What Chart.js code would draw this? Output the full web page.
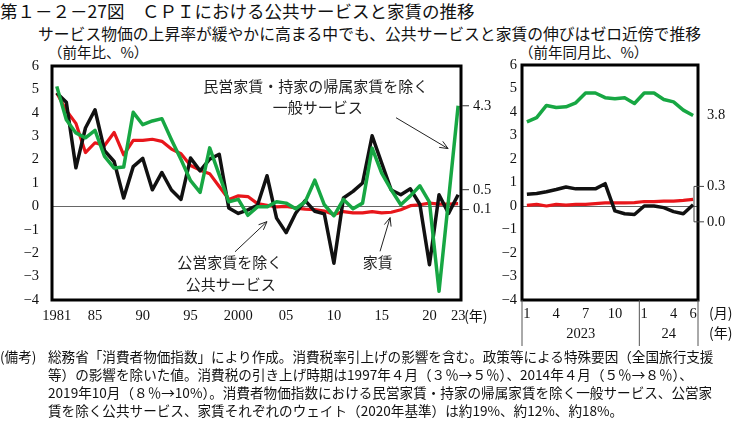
<!DOCTYPE html>
<html lang="ja">
<head>
<meta charset="utf-8">
<script src="https://cdn.jsdelivr.net/npm/chart.js@4.4.1/dist/chart.umd.min.js"></script>
<style>
  body { margin: 0; background: #fff; }
  #page { position: relative; width: 740px; height: 423px; overflow: hidden;
          font-family: "Noto Sans CJK JP", sans-serif; color: #111; }
  .txt { position: absolute; white-space: nowrap; }
  #title { left: 0; top: 0; font-size: 17.5px; line-height: 22px; }
  #subtitle { left: 38px; top: 23px; font-size: 15.8px; line-height: 22px; }
  .unit { top: 43px; font-size: 14.5px; line-height: 18px; }
  canvas { position: absolute; }
  #notes { position: absolute; left: 0; top: 347px; width: 740px; font-size: 13.6px; line-height: 18px; }
  #notes .head { position: absolute; left: 0; top: 0; }
  #notes .body { margin-left: 48px; }
  #notes .body div { white-space: nowrap; }
</style>
</head>
<body>
<div id="page">
  <div id="title" class="txt">第１－２－27図　ＣＰＩにおける公共サービスと家賃の推移</div>
  <div id="subtitle" class="txt">サービス物価の上昇率が緩やかに高まる中でも、公共サービスと家賃の伸びはゼロ近傍で推移</div>
  <div class="txt unit" style="left:48px">（前年比、%）</div>
  <div class="txt unit" style="left:519px">（前年同月比、%）</div>

  <canvas id="annualChart" width="500" height="300" style="left:0;top:40px"></canvas>
  <canvas id="monthlyChart" width="245" height="310" style="left:495px;top:40px"></canvas>

  <div id="notes">
    <div class="head">(備考)</div>
    <div class="body">
      <div>総務省「消費者物価指数」により作成。消費税率引上げの影響を含む。政策等による特殊要因（全国旅行支援</div>
      <div>等）の影響を除いた値。消費税の引き上げ時期は1997年４月（３％→５％）、2014年４月（５％→８％）、</div>
      <div>2019年10月（８％→10%）。消費者物価指数における民営家賃・持家の帰属家賃を除く一般サービス、公営家</div>
      <div>賃を除く公共サービス、家賃それぞれのウェイト（2020年基準）は約19%、約12%、約18%。</div>
    </div>
  </div>
</div>

<script>
// annual data, 1981-2023 (前年比, %)
var years = [1981, 1982, 1983, 1984, 1985, 1986, 1987, 1988, 1989, 1990,
  1991, 1992, 1993, 1994, 1995, 1996, 1997, 1998, 1999, 2000,
  2001, 2002, 2003, 2004, 2005, 2006, 2007, 2008, 2009, 2010,
  2011, 2012, 2013, 2014, 2015, 2016, 2017, 2018, 2019, 2020,
  2021, 2022, 2023];
// 民営家賃・持家の帰属家賃を除く一般サービス
var generalServices = [5.13, 3.7, 3.14, 2.93, 3.25, 2.14, 1.64, 1.68, 4.02, 3.49,
  3.65, 3.75, 2.85, 2.0, 1.1, 0.6, 2.5, 1.35, 0.2, 0.3,
  -0.38, -0.02, -0.02, 0.2, 0.14, -0.1, 0.2, 1.12, 0.07, -0.4,
  0.3, -0.1, 0.14, 2.49, 1.42, 0.71, 0.07, 0.45, 0.88, 0.18,
  -3.63, 0.3, 4.3];
// 公営家賃を除く公共サービス
var publicServices = [4.85, 4.45, 1.65, 3.35, 4.13, 2.38, 1.92, 0.36, 1.7, 2.05,
  0.71, 1.45, 0.7, 0.3, 2.07, 1.52, 2.02, 2.23, -0.07, -0.3,
  -0.15, 0.05, 1.31, -0.5, -1.12, -0.29, 0.25, -0.21, -0.32, -2.43,
  0.36, 0.64, 1.0, 3.02, 1.85, 0.7, 0.5, 0.75, 0.08, -2.49,
  0.5, -0.3, 0.5];
// 家賃
var rent = [4.85, 4.1, 3.55, 2.3, 2.72, 2.6, 3.16, 2.2, 2.82, 2.82,
  2.87, 2.78, 2.45, 2.25, 1.75, 1.55, 1.4, 0.85, 0.3, 0.45,
  0.42, 0.12, 0.05, -0.02, 0.0, -0.07, -0.12, -0.14, -0.2, -0.35,
  -0.22, -0.28, -0.28, -0.22, -0.28, -0.25, -0.14, 0.03, 0.07, 0.14,
  0.1, 0.1, 0.12];

var xTickYears = [1981, 1985, 1990, 1995, 2000, 2005, 2010, 2015, 2020, 2023];
var xTickLabels = ["1981", "85", "90", "95", "2000", "05", "10", "15", "20", "23"];
var annualEndLabels = ["4.3", "0.5", "0.1"];

// monthly data, 2023/1 - 2024/6 (前年同月比, %)
var months = ["2023-1", "2023-2", "2023-3", "2023-4", "2023-5", "2023-6", "2023-7", "2023-8", "2023-9",
  "2023-10", "2023-11", "2023-12", "2024-1", "2024-2", "2024-3", "2024-4", "2024-5", "2024-6"];
var monthTickLabels = ["1", "", "", "4", "", "", "7", "", "", "10", "", "", "1", "", "", "4", "", "6"];
var monthYearLabels = ["2023", "24"];
var generalServicesM = [3.58, 3.76, 4.28, 4.19, 4.22, 4.39, 4.81, 4.81, 4.61, 4.56, 4.61, 4.36,
  4.81, 4.81, 4.53, 4.43, 4.08, 3.85];
var publicServicesM = [0.5, 0.53, 0.61, 0.7, 0.81, 0.73, 0.73, 0.73, 0.95, -0.21, -0.33, -0.36,
  0.0, 0.0, -0.07, -0.24, -0.33, 0.05];
var rentM = [0.03, 0.07, 0.0, 0.07, 0.04, 0.07, 0.07, 0.1, 0.13, 0.13, 0.13, 0.14,
  0.19, 0.19, 0.21, 0.21, 0.24, 0.28];
var monthlyEndLabels = ["3.8", "0.3", "0.0"];

var GREEN = "#17a743", RED = "#e8161b", BLACK = "#111";
var numFont = { family: '"Liberation Serif", "Noto Sans CJK JP", serif', size: 14.5 };
var jpFont = '"Noto Sans CJK JP", sans-serif';
var MINUS = "\u2212";

function yLabel(v) {
  return String(v).replace("-", MINUS);
}

function zeroGrid(c) {
  return c.tick && c.tick.value === 0 ? "#666" : "rgba(0,0,0,0)";
}

function arrow(ctx, x1, y1, x2, y2) {
  var a = Math.atan2(y2 - y1, x2 - x1), h = 9;
  ctx.beginPath();
  ctx.moveTo(x1, y1);
  ctx.lineTo(x2, y2);
  ctx.moveTo(x2 - h * Math.cos(a - 0.4), y2 - h * Math.sin(a - 0.4));
  ctx.lineTo(x2, y2);
  ctx.lineTo(x2 - h * Math.cos(a + 0.4), y2 - h * Math.sin(a + 0.4));
  ctx.stroke();
}

// text / arrows placed in data coordinates (year, %)
var notesText = [
  { t: "民営家賃・持家の帰属家賃を除く", x: 2008.1, y: 5.13 },
  { t: "一般サービス", x: 2008.3, y: 4.22 },
  { t: "公営家賃を除く", x: 1999.1, y: -2.41 },
  { t: "公共サービス", x: 1999.2, y: -3.35 },
  { t: "家賃", x: 2014.6, y: -2.41 }
];
var notesArrows = [
  [2016.5, 3.79, 2021.95, 2.47],
  [1999.65, -1.94, 2003.0, -0.65],
  [2014.83, -1.92, 2015.88, -0.48]
];

var annualDecor = {
  id: "annualDecor",
  afterDraw: function (chart) {
    var ctx = chart.ctx, ca = chart.chartArea;
    var xs = chart.scales.x, ys = chart.scales.y;
    ctx.save();
    ctx.strokeStyle = "#000";
    ctx.lineWidth = 3;
    ctx.strokeRect(ca.left, ca.top, ca.width, ca.height);

    // end-of-series labels on the right
    var ends = [generalServices[42], publicServices[42], rent[42]];
    var shift = [0, -5, 6];
    ctx.lineWidth = 1;
    ctx.strokeStyle = "#333";
    ctx.fillStyle = "#111";
    ctx.font = numFont.size + "px " + numFont.family;
    ctx.textBaseline = "middle";
    ctx.textAlign = "left";
    for (var i = 0; i < ends.length; i++) {
      var y = ys.getPixelForValue(ends[i]) + shift[i];
      ctx.beginPath();
      ctx.moveTo(ca.right + 1, y);
      ctx.lineTo(ca.right + 8, y);
      ctx.stroke();
      ctx.fillText(annualEndLabels[i], ca.right + 12, y);
    }
    // (年) after the last year tick
    ctx.font = "14px " + jpFont;
    ctx.fillText("(年)", xs.getPixelForValue(2023) + 6, ca.bottom + 16);

    // annotations
    ctx.font = "15px " + jpFont;
    ctx.textAlign = "center";
    ctx.fillStyle = "#222";
    notesText.forEach(function (n) {
      ctx.fillText(n.t, xs.getPixelForValue(n.x), ys.getPixelForValue(n.y));
    });
    ctx.strokeStyle = "#222";
    notesArrows.forEach(function (a) {
      arrow(ctx, xs.getPixelForValue(a[0]), ys.getPixelForValue(a[1]),
        xs.getPixelForValue(a[2]), ys.getPixelForValue(a[3]));
    });
    ctx.restore();
  }
};

var monthlyDecor = {
  id: "monthlyDecor",
  afterDraw: function (chart) {
    var ctx = chart.ctx, ca = chart.chartArea;
    var xs = chart.scales.x, ys = chart.scales.y;
    var last = months.length - 1;
    ctx.save();
    ctx.strokeStyle = "#000";
    ctx.lineWidth = 3;
    ctx.strokeRect(ca.left, ca.top, ca.width, ca.height);

    ctx.fillStyle = "#111";
    ctx.font = numFont.size + "px " + numFont.family;
    ctx.textBaseline = "middle";
    ctx.textAlign = "left";
    // 3.8 next to green line, 0.3 / 0.0 spread apart with a bracket
    ctx.fillText(monthlyEndLabels[0], ca.right + 9, ys.getPixelForValue(generalServicesM[last]));
    var yTop = ys.getPixelForValue(rentM[last]) - 13;
    var yBot = ys.getPixelForValue(publicServicesM[last]) + 17;
    ctx.fillText(monthlyEndLabels[1], ca.right + 9, yTop);
    ctx.fillText(monthlyEndLabels[2], ca.right + 9, yBot);
    ctx.lineWidth = 1;
    ctx.strokeStyle = "#444";
    ctx.beginPath();
    ctx.moveTo(ca.right + 6, yTop);
    ctx.lineTo(ca.right - 4, yTop);
    ctx.lineTo(ca.right - 4, yBot);
    ctx.lineTo(ca.right + 6, yBot);
    ctx.stroke();

    // year row with separators
    var mid = (xs.getPixelForValue(11) + xs.getPixelForValue(12)) / 2;
    ctx.strokeStyle = "#555";
    ctx.beginPath();
    [ca.left, mid, ca.right].forEach(function (x) {
      ctx.moveTo(x, ca.bottom);
      ctx.lineTo(x, ca.bottom + 46);
    });
    ctx.stroke();
    ctx.textAlign = "center";
    var yRow = ca.bottom + 34;
    ctx.fillText(monthYearLabels[0], (ca.left + mid) / 2, yRow);
    ctx.fillText(monthYearLabels[1], (mid + ca.right) / 2, yRow);
    ctx.textAlign = "left";
    ctx.font = "14px " + jpFont;
    ctx.fillText("(月)", ca.right + 11, ca.bottom + 13);
    ctx.fillText("(年)", ca.right + 11, yRow - 1);
    ctx.restore();
  }
};

function lineSet(data, color, width) {
  return {
    data: data,
    borderColor: color,
    borderWidth: width,
    borderJoinStyle: "round",
    pointRadius: 0,
    tension: 0,
    fill: false
  };
}

var annualCtx = document.getElementById("annualChart").getContext("2d");
var annualChart = new Chart(annualCtx, {
  type: "line",
  data: {
    datasets: [
      lineSet(years.map(function (y, i) { return { x: y, y: generalServices[i] }; }), GREEN, 3.5),
      lineSet(years.map(function (y, i) { return { x: y, y: publicServices[i] }; }), BLACK, 3.5),
      lineSet(years.map(function (y, i) { return { x: y, y: rent[i] }; }), RED, 3.2)
    ]
  },
  options: {
    responsive: false,
    animation: false,
    layout: { padding: { left: 0, right: 39, top: 26, bottom: 0 } },
    plugins: { legend: { display: false }, tooltip: { enabled: false } },
    scales: {
      x: {
        type: "linear",
        min: 1980.5,
        max: 2023.3,
        grid: { display: false, drawTicks: false },
        border: { display: false },
        afterBuildTicks: function (s) {
          s.ticks = xTickYears.map(function (v) { return { value: v }; });
        },
        afterFit: function (s) { s.height = 40; },
        ticks: {
          autoSkip: false,
          maxRotation: 0,
          padding: 7,
          font: numFont,
          color: "#111",
          callback: function (v) { return xTickLabels[xTickYears.indexOf(v)]; }
        }
      },
      y: {
        min: -4,
        max: 6,
        afterFit: function (s) { s.width = 52; },
        grid: { drawTicks: false, color: zeroGrid, lineWidth: 1 },
        border: { display: false },
        ticks: { stepSize: 1, padding: 13, font: numFont, color: "#111", callback: yLabel }
      }
    }
  },
  plugins: [annualDecor]
});

var monthlyCtx = document.getElementById("monthlyChart").getContext("2d");
var monthlyChart = new Chart(monthlyCtx, {
  type: "line",
  data: {
    labels: months,
    datasets: [
      lineSet(generalServicesM, GREEN, 3.5),
      lineSet(publicServicesM, BLACK, 3.5),
      lineSet(rentM, RED, 3.2)
    ]
  },
  options: {
    responsive: false,
    animation: false,
    layout: { padding: { left: 0, right: 42, top: 25, bottom: 0 } },
    plugins: { legend: { display: false }, tooltip: { enabled: false } },
    scales: {
      x: {
        offset: true,
        grid: { display: false, drawTicks: false },
        border: { display: false },
        afterFit: function (s) { s.height = 50; },
        ticks: {
          autoSkip: false,
          maxRotation: 0,
          padding: 5,
          font: numFont,
          color: "#111",
          callback: function (v, i) { return monthTickLabels[i]; }
        }
      },
      y: {
        min: -4,
        max: 6,
        afterFit: function (s) { s.width = 27; },
        grid: { drawTicks: false, color: zeroGrid, lineWidth: 1 },
        border: { display: false },
        ticks: { stepSize: 1, padding: 5, font: numFont, color: "#111", callback: yLabel }
      }
    }
  },
  plugins: [monthlyDecor]
});
</script>
</body>
</html>
